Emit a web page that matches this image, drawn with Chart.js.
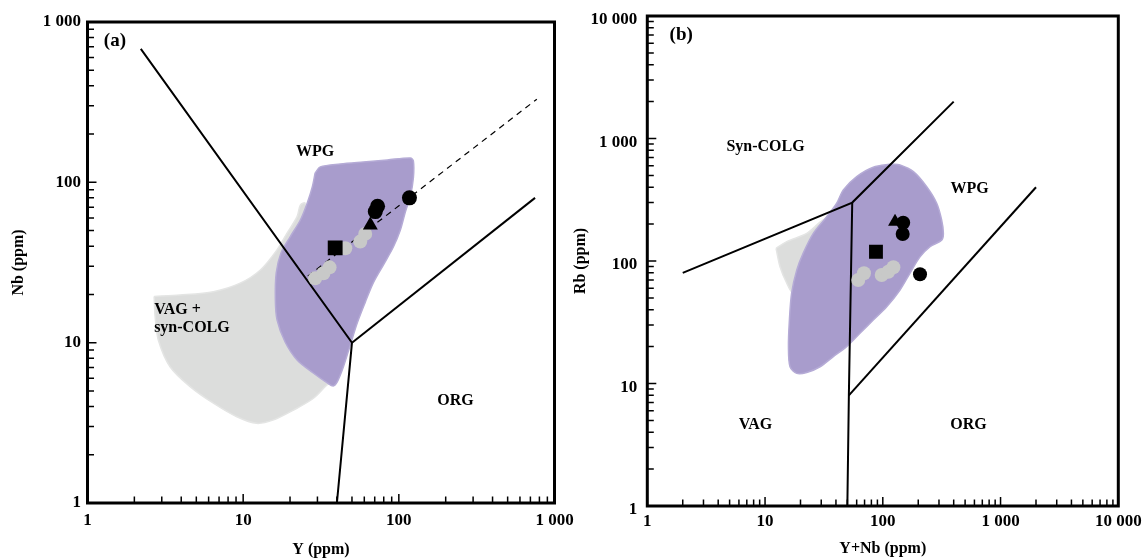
<!DOCTYPE html>
<html>
<head>
<meta charset="utf-8">
<script src="https://cdn.jsdelivr.net/npm/chart.js@4.4.1/dist/chart.umd.min.js"></script>
<style>
  html, body { margin: 0; padding: 0; background: #fff; }
  body { width: 1142px; height: 558px; position: relative; overflow: hidden; }
  canvas { position: absolute; top: 0; }
  #chartA { left: 0; }
  #chartB { left: 571px; }
</style>
</head>
<body>
<canvas id="chartA" width="600" height="558"></canvas>
<canvas id="chartB" width="571" height="558"></canvas>
<script>
// ---------- panel (a): Nb vs Y ----------
const decadesA = [1, 10, 100, 1000];
const tickLabelsA = ['1', '10', '100', '1 000'];

const vagFieldA = [
  [2.68, 19.4], [3.93, 19.8], [6.44, 20.8], [9.57, 23.5], [12.9, 28.4], [16.5, 37.9],
  [19.1, 48.1], [22.2, 61.1], [23.3, 72.1], [25.0, 74.1], [28.3, 43.7], [38.1, 10.4],
  [38.1, 5.85], [34.5, 5.45], [28.3, 4.50], [21.1, 3.80], [15.7, 3.30], [12.2, 3.14],
  [9.11, 3.45], [6.44, 4.19], [4.56, 5.32], [3.39, 7.08], [2.85, 10.4], [2.72, 14.5],
  [2.68, 19.4]
];
const wpgFieldA = [
  [29.0, 114.5], [31.3, 124.8], [42.0, 130.2], [59.1, 134.1], [84.4, 138.0], [118.6, 142.0],
  [124, 136.1], [124, 106.5], [118.6, 82.2], [110.1, 65.3], [102.3, 50.4], [92.2, 39.5],
  [79.5, 30.5], [68.5, 23.6], [60.9, 17.9], [54.1, 13.3], [48.8, 9.68], [44.0, 7.05],
  [40.2, 5.69], [37.9, 5.37], [34.7, 5.61], [28.2, 6.47], [22.2, 7.80], [18.6, 10.1],
  [16.5, 13.9], [16.1, 18.5], [16.3, 27.2], [17.5, 36.3], [20.0, 45.6], [23.3, 58.2],
  [25.8, 74.4], [27.8, 93.6], [29.0, 114.5]
];
const boundaryA1 = [[2.2, 680], [50, 10], [40, 1]];
const boundaryA2 = [[50, 10], [750, 80]];
const trendA = [[26, 26], [770, 330]];

const grayPtsA = [[29, 25.2], [32.8, 27.1], [35.9, 29.5], [45.3, 38.8], [56.5, 42.7], [60.8, 47.7]];
const circlesA = [[117, 80], [73, 71], [70.6, 65.7]];
const squaresA = [[39, 39]];
const trianglesA = [[65.6, 54]];

const regionsA = [
  { text: 'WPG', x: 29, y: 155, align: 'center' },
  { text: 'VAG +', x: 2.68, y: 16, align: 'left' },
  { text: 'syn-COLG', x: 2.68, y: 12.4, align: 'left' },
  { text: 'ORG', x: 231, y: 4.33, align: 'center' }
];
const tagA = { text: '(a)', x: 1.5, y: 755 };

// ---------- panel (b): Rb vs Y+Nb ----------
const decadesB = [1, 10, 100, 1000, 10000];
const tickLabelsB = ['1', '10', '100', '1 000', '10 000'];

const vagFieldB = [
  [12.4, 127], [15.3, 144], [22.6, 168], [31.2, 216], [43.3, 238], [52.6, 102],
  [35.6, 48], [17.4, 54.5], [15.3, 65.8], [13.4, 89.8], [12.4, 127]
];
const wpgFieldB = [
  [119, 619], [83.0, 582], [60.0, 488], [46.2, 380], [40.6, 296], [33.4, 230], [25.7, 168],
  [21.1, 116], [18.6, 84.5], [16.8, 54.5], [16.1, 33.0], [15.8, 20.0], [16.3, 13.7],
  [18.6, 12.1], [22.6, 12.3], [29.3, 13.7], [38.0, 16.6], [49.3, 20.0], [64.0, 25.7],
  [83.0, 33.0], [108, 42.4], [140, 58.0], [170, 79.4], [207, 108], [252, 131], [316, 148],
  [327, 168], [316, 216], [287, 296], [236, 404], [182, 536], [140, 608], [119, 619]
];
const boundaryB1 = [[2, 80], [55, 300], [400, 2000]];
const boundaryB2 = [[55, 300], [51.5, 8], [50, 1]];
const boundaryB3 = [[51.5, 8], [2000, 400]];

const grayPtsB = [[61.9, 70], [69.2, 79.4], [97.9, 76.9], [111.4, 81.8], [123, 88.9]];
const circlesB = [[149, 205.5], [147.5, 166], [207, 78]];
const squaresB = [[87.5, 119]];
const trianglesB = [[127, 209]];

const regionsB = [
  { text: 'Syn-COLG', x: 10.1, y: 857, align: 'center' },
  { text: 'WPG', x: 545, y: 390, align: 'center' },
  { text: 'VAG', x: 8.3, y: 4.56, align: 'center' },
  { text: 'ORG', x: 535, y: 4.56, align: 'center' }
];
const tagB = { text: '(b)', x: 1.94, y: 6920 };

// ---------- helpers ----------
const FONT = "'Liberation Serif', 'Times New Roman', serif";
const toXY = arr => arr.map(([x, y]) => ({ x, y }));

function logTicks(decades) {
  const out = [];
  decades.forEach((d, i) => {
    if (i === decades.length - 1) { out.push(d); return; }
    for (let m = 1; m < 10; m++) out.push(d * m);
  });
  return out;
}

function field(pts, fill, edge, order) {
  return {
    data: toXY(pts), showLine: true, fill: 'shape', tension: 0.3,
    backgroundColor: fill, borderColor: edge, borderWidth: 1.5,
    pointRadius: 0, order
  };
}
function polyline(pts, dash) {
  return {
    data: toXY(pts), showLine: true, fill: false, tension: 0,
    borderColor: '#000', borderWidth: dash ? 1.2 : 2, borderDash: dash || [],
    pointRadius: 0, order: 5
  };
}
function marks(pts, style, radius, color, order) {
  return {
    data: toXY(pts), showLine: false, pointStyle: style, pointRadius: radius,
    backgroundColor: color, borderColor: color, borderWidth: 0, order
  };
}

function logAxis(o) {
  return {
    type: 'logarithmic', position: o.position, min: o.min, max: o.max,
    grid: { display: false, drawTicks: false },
    border: { display: false },
    ticks: {
      autoSkip: false, maxRotation: 0, minRotation: 0, padding: o.pad, color: '#000',
      labelOffset: o.labelOffset || 0,
      font: { family: FONT, size: 17, weight: 'bold' },
      callback: v => { const i = o.decades.indexOf(v); return i >= 0 ? o.labels[i] : ''; }
    },
    title: {
      display: true, text: o.title, color: '#000',
      font: { family: FONT, size: 16, weight: 'bold', lineHeight: o.position === 'bottom' ? 1 : 1.2 },
      padding: o.titlePad
    },
    afterBuildTicks: scale => {
      scale.ticks = logTicks(o.decades).map(v => ({ value: v, major: o.decades.includes(v) }));
    },
    afterFit: scale => {
      if (o.position === 'bottom') scale.height = o.size; else scale.width = o.size;
      scale.paddingLeft = scale.paddingRight = scale.paddingTop = scale.paddingBottom = 0;
    }
  };
}

// inward ticks + heavy frame
function framePlugin(decX, decY) {
  return {
    id: 'frame',
    afterDraw(chart) {
      const { ctx, chartArea: a, scales } = chart;
      ctx.save();
      ctx.strokeStyle = '#000';
      ctx.lineWidth = 1.5;
      ctx.beginPath();
      scales.x.ticks.forEach(t => {
        const px = scales.x.getPixelForValue(t.value);
        const len = decX.includes(t.value) ? 9 : 6.5;
        ctx.moveTo(px, a.bottom); ctx.lineTo(px, a.bottom - len);
      });
      scales.y.ticks.forEach(t => {
        const py = scales.y.getPixelForValue(t.value);
        const len = decY.includes(t.value) ? 9 : 6.5;
        ctx.moveTo(a.left, py); ctx.lineTo(a.left + len, py);
      });
      ctx.stroke();
      ctx.lineWidth = 3;
      ctx.strokeRect(a.left, a.top, a.right - a.left, a.bottom - a.top);
      ctx.restore();
    }
  };
}

function labelPlugin(items, tag) {
  return {
    id: 'regionLabels',
    afterDatasetsDraw(chart) {
      const { ctx, scales } = chart;
      ctx.save();
      ctx.fillStyle = '#000';
      ctx.textBaseline = 'middle';
      ctx.font = `bold 16px ${FONT}`;
      items.forEach(it => {
        ctx.textAlign = it.align;
        ctx.fillText(it.text, scales.x.getPixelForValue(it.x), scales.y.getPixelForValue(it.y));
      });
      ctx.font = `bold 19px ${FONT}`;
      ctx.textAlign = 'center';
      ctx.fillText(tag.text, scales.x.getPixelForValue(tag.x), scales.y.getPixelForValue(tag.y));
      ctx.restore();
    }
  };
}

function makePanel(id, d) {
  return new Chart(document.getElementById(id), {
    type: 'scatter',
    data: {
      datasets: [
        field(d.vag, '#dcdddc', '#e4e5e4', 10),
        field(d.wpg, '#a89ccc', '#b5abd6', 9),
        ...d.lines.map(l => polyline(l)),
        ...(d.trend ? [polyline(d.trend, [6, 5])] : []),
        marks(d.gray, 'circle', 7, '#c8c9c8', 3),
        marks(d.circles, 'circle', d.r, '#000', 1),
        marks(d.squares, 'rect', d.r * 1.4, '#000', 1),
        marks(d.triangles, 'triangle', d.r * 1.15, '#000', 1)
      ]
    },
    options: {
      responsive: false, animation: false, devicePixelRatio: 1,
      layout: { padding: d.padding },
      plugins: { legend: { display: false }, tooltip: { enabled: false } },
      scales: { x: d.x, y: d.y }
    },
    plugins: [labelPlugin(d.regions, d.tag), framePlugin(d.decX, d.decY)]
  });
}

makePanel('chartA', {
  vag: vagFieldA, wpg: wpgFieldA, lines: [boundaryA1, boundaryA2], trend: trendA,
  gray: grayPtsA, circles: circlesA, squares: squaresA, triangles: trianglesA, r: 7.5,
  regions: regionsA, tag: tagA, decX: decadesA, decY: decadesA,
  padding: { left: 0, top: 22, right: 45.5, bottom: 0 },
  x: logAxis({ position: 'bottom', min: 1, max: 1000, decades: decadesA, labels: tickLabelsA,
    title: 'Y (ppm)', pad: 7.3, size: 55, titlePad: { top: 0, bottom: 0 } }),
  y: logAxis({ position: 'left', min: 1, max: 1000, decades: decadesA, labels: tickLabelsA,
    title: 'Nb (ppm)', pad: 6.5, size: 87.5, titlePad: { top: 9.6, bottom: 0 } })
});

makePanel('chartB', {
  vag: vagFieldB, wpg: wpgFieldB, lines: [boundaryB1, boundaryB2, boundaryB3], trend: null,
  gray: grayPtsB, circles: circlesB, squares: squaresB, triangles: trianglesB, r: 7,
  regions: regionsB, tag: tagB, decX: decadesB, decY: decadesB,
  padding: { left: 0, top: 16, right: 23.7, bottom: 0 },
  x: logAxis({ position: 'bottom', min: 1, max: 10000, decades: decadesB, labels: tickLabelsB,
    title: 'Y+Nb (ppm)', pad: 5.5, size: 52, titlePad: { top: 0, bottom: 1 } }),
  y: logAxis({ position: 'left', min: 1, max: 10000, decades: decadesB, labels: tickLabelsB,
    title: 'Rb (ppm)', pad: 10, size: 76.3, labelOffset: 4, titlePad: { top: 0.4, bottom: 0 } })
});
</script>
</body>
</html>
